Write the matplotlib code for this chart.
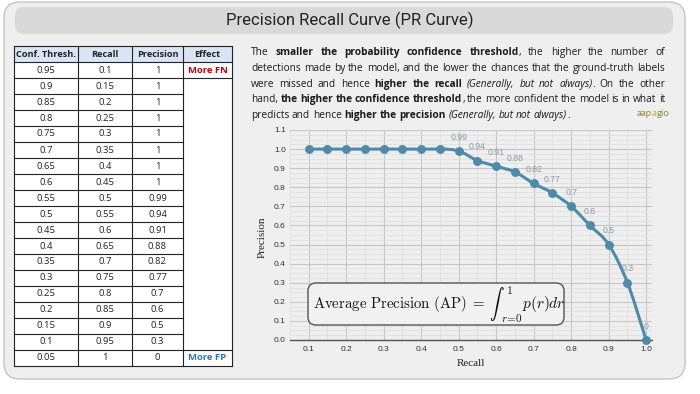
import re
import numpy as np
import matplotlib
matplotlib.use("Agg")
import matplotlib.pyplot as plt
from matplotlib.patches import FancyBboxPatch, PathPatch
from matplotlib.path import Path

plt.rcParams["mathtext.fontset"] = "cm"

# ---------------- data ----------------
conf_thresh = [0.95, 0.9, 0.85, 0.8, 0.75, 0.7, 0.65, 0.6, 0.55, 0.5,
               0.45, 0.4, 0.35, 0.3, 0.25, 0.2, 0.15, 0.1, 0.05]
recall = [0.1, 0.15, 0.2, 0.25, 0.3, 0.35, 0.4, 0.45, 0.5, 0.55,
          0.6, 0.65, 0.7, 0.75, 0.8, 0.85, 0.9, 0.95, 1]
precision = [1, 1, 1, 1, 1, 1, 1, 1, 0.99, 0.94,
             0.91, 0.88, 0.82, 0.77, 0.7, 0.6, 0.5, 0.3, 0]
table_headers = ["Conf. Thresh.", "Recall", "Precision", "Effect"]
effect_top = "More FN"
effect_bottom = "More FP"
x_ticks = [0.1, 0.2, 0.3, 0.4, 0.5, 0.6, 0.7, 0.8, 0.9, 1.0]
y_ticks = [0.0, 0.1, 0.2, 0.3, 0.4, 0.5, 0.6, 0.7, 0.8, 0.9, 1.0, 1.1]
label_from_recall = 0.5   # points that carry a value label

title = "Precision Recall Curve (PR Curve)"
paragraph = [
    "The **smaller the probability confidence threshold**, the higher the number of",
    "detections made by the model, and the lower the chances that the ground-truth labels",
    "were missed and hence **higher the recall** *(Generally, but not always)*. On the other",
    "hand, **the higher the confidence threshold**, the more confident the model is in what it",
    "predicts and hence **higher the precision** *(Generally, but not always)*.",
]

LINE_C = "#4f8aa8"
W, H = 700, 394

fig = plt.figure(figsize=(7, 3.94), dpi=100)
bg = fig.add_axes([0, 0, 1, 1])
bg.set_xlim(0, W)
bg.set_ylim(H, 0)
bg.axis("off")
renderer = fig.canvas.get_renderer()

# outer panel and title bar
bg.add_patch(FancyBboxPatch((4, 2), 681, 377, boxstyle="round,pad=0,rounding_size=16",
                            fc="#efefef", ec="#c4c4c4", lw=1.0))
bg.add_patch(FancyBboxPatch((15, 7), 658, 27, boxstyle="round,pad=0,rounding_size=9",
                            fc="#d9d9d9", ec="none"))
bg.text(350, 20.5, title, ha="center", va="center", fontsize=12,
        family="Roboto", color="#222222")

# ---------------- table ----------------
TFS = 6.8
cols = [14, 78, 132, 183, 232]
top, hh, rh = 46, 16, 16
nrows = len(conf_thresh)
bottom = top + hh + rh * nrows
bg.add_patch(plt.Rectangle((cols[0], top), cols[-1] - cols[0], bottom - top,
                           fc="white", ec="none"))
bg.add_patch(plt.Rectangle((cols[0], top), cols[-1] - cols[0], hh,
                           fc="#d9e4f4", ec="none"))
lc, lw = "#222222", 0.8
for x in cols:
    bg.plot([x, x], [top, bottom], color=lc, lw=lw)
ys = [top] + [top + hh + rh * i for i in range(nrows + 1)]
for k, y in enumerate(ys):
    if k in (0, 1, 2, len(ys) - 2, len(ys) - 1):
        bg.plot([cols[0], cols[-1]], [y, y], color=lc, lw=lw)
    else:
        bg.plot([cols[0], cols[3]], [y, y], color=lc, lw=lw)
centers = [(cols[i] + cols[i + 1]) / 2 for i in range(4)]
for c, h in zip(centers, table_headers):
    bg.text(c, top + hh / 2, h, ha="center", va="center", fontsize=6.6,
            fontweight="bold", family="Open Sans", color="#222222")
for i in range(nrows):
    yc = top + hh + rh * i + rh / 2
    for c, v in zip(centers[:3], (conf_thresh[i], recall[i], precision[i])):
        bg.text(c, yc, f"{v:g}", ha="center", va="center", fontsize=TFS,
                family="Open Sans", color="#222222")
bg.text(centers[3], top + hh + rh / 2, effect_top, ha="center", va="center",
        fontsize=TFS, fontweight="bold", family="Open Sans", color="#c00000")
bg.text(centers[3], bottom - rh / 2, effect_bottom, ha="center", va="center",
        fontsize=TFS, fontweight="bold", family="Open Sans", color="#2e75b6")

# ---------------- paragraph (justified) ----------------
styles = {"n": dict(), "b": dict(fontweight="bold"), "i": dict(style="italic")}
PFONT = "Open Sans"


def measure(s, st, fs):
    t = bg.text(0, 0, s, fontsize=fs, family=PFONT, **styles[st])
    w = t.get_window_extent(renderer).width
    t.remove()
    return w


def parse(line):
    runs = []
    for tok in re.split(r"(\*\*.*?\*\*|\*.*?\*)", line):
        if not tok:
            continue
        if tok.startswith("**"):
            runs.append((tok[2:-2], "b"))
        elif tok.startswith("*"):
            runs.append((tok[1:-1], "i"))
        else:
            runs.append((tok, "n"))
    words = [[]]
    for text, st in runs:
        for k, p in enumerate(text.split(" ")):
            if k > 0:
                words.append([])
            if p:
                words[-1].append((p, st))
    return [w for w in words if w]


px0, px1 = 251, 665
line_y = [52.5, 68.2, 84.0, 99.6, 115.2]
parsed = [parse(l) for l in paragraph]


def layout(fs):
    sp = measure("a a", "n", fs) - 2 * measure("a", "n", fs)
    res = []
    ok = True
    for words in parsed:
        widths = [[measure(p, st, fs) for p, st in w] for w in words]
        tot = sum(sum(w) for w in widths)
        if tot + 0.8 * sp * (len(words) - 1) > px1 - px0:
            ok = False
        res.append(widths)
    return ok, sp, res


PFS = 8.0
while True:
    ok, space_w, all_widths = layout(PFS)
    if ok or PFS < 6:
        break
    PFS -= 0.1

for li, (words, widths, y) in enumerate(zip(parsed, all_widths, line_y)):
    tot = sum(sum(w) for w in widths)
    if li < len(paragraph) - 1:
        gap = (px1 - px0 - tot) / (len(words) - 1)
    else:
        gap = space_w
    x = px0
    for w, ws in zip(words, widths):
        for (p, st), pw in zip(w, ws):
            bg.text(x, y, p, ha="left", va="center", fontsize=PFS,
                    family=PFONT, color="#1a1a1a", **styles[st])
            x += pw
        x += gap

# logo
logo = [("aap", "#8d8f2e"), ("a", "#e3a21a"), ("gio", "#8d8f2e")]
lx = 637
for s, c in logo:
    t = bg.text(lx, 113, s, fontsize=7, family="Lato", color=c, va="center")
    lx += t.get_window_extent(renderer).width

# ---------------- chart ----------------
ax = fig.add_axes([290 / W, 1 - 340 / H, 362 / W, 210 / H])
ax.patch.set_visible(False)
ax.set_xlim(0.082, 1.0155)
ax.set_ylim(0, 1.1)
ax.set_xticks(x_ticks)
ax.set_yticks(y_ticks)
ax.set_xticks(np.arange(0.05, 1.01, 0.05), minor=True)
ax.set_yticks(np.arange(0, 1.1, 0.025), minor=True)
ax.set_xticklabels([f"{t:.1f}" for t in x_ticks])
ax.set_yticklabels([f"{t:.1f}" for t in y_ticks])
ax.grid(which="major", color="#c6c6c6", lw=0.8)
ax.grid(which="minor", color="#dddddd", lw=0.5)
ax.set_axisbelow(True)
for s in ("left", "right", "top"):
    ax.spines[s].set_visible(False)
ax.spines["bottom"].set_color("#555555")
ax.spines["bottom"].set_linewidth(1.0)
ax.tick_params(which="both", length=0)
ax.tick_params(axis="x", pad=4, labelsize=6, labelcolor="#333333")
ax.tick_params(axis="y", pad=3, labelsize=6, labelcolor="#333333")
for lab in ax.get_xticklabels() + ax.get_yticklabels():
    lab.set_family("Liberation Sans")

# monotone cubic bezier through the data points
xa = np.array(recall, float)
ya = np.array(precision, float)
dx = np.diff(xa)
d = np.diff(ya) / dx
m = np.zeros_like(xa)
m[0], m[-1] = d[0], d[-1]
for i in range(1, len(xa) - 1):
    m[i] = 0 if d[i - 1] * d[i] <= 0 else (d[i - 1] + d[i]) / 2
for i in range(len(d)):
    if d[i] == 0:
        m[i] = m[i + 1] = 0
    else:
        a, b = m[i] / d[i], m[i + 1] / d[i]
        s2 = a * a + b * b
        if s2 > 9:
            t = 3 / np.sqrt(s2)
            m[i], m[i + 1] = t * a * d[i], t * b * d[i]
verts = [(xa[0], ya[0])]
codes = [Path.MOVETO]
for i in range(len(dx)):
    h = dx[i] / 3
    verts += [(xa[i] + h, ya[i] + m[i] * h),
              (xa[i + 1] - h, ya[i + 1] - m[i + 1] * h),
              (xa[i + 1], ya[i + 1])]
    codes += [Path.CURVE4] * 3
ax.add_patch(PathPatch(Path(verts, codes), fc="none", ec=LINE_C, lw=2.2,
                       capstyle="round", joinstyle="round", zorder=3, clip_on=False))
ax.plot(recall, precision, "o", color=LINE_C, ms=5.4, zorder=4, clip_on=False)
for r, p in zip(recall, precision):
    if r >= label_from_recall:
        ax.annotate(f"{p:g}", (r, p), xytext=(0, 10), textcoords="offset points",
                    ha="center", va="center", fontsize=6.3, color="#8a9aa6",
                    family="Liberation Sans")

bg.text(262, 237, "Precision", rotation=90, ha="center", va="center",
        fontsize=8, family="Liberation Serif", color="#222222")
bg.text(471, 364, "Recall", ha="center", va="center",
        fontsize=8, family="Liberation Serif", color="#222222")

# ---------------- formula overlay ----------------
ov = fig.add_axes([0, 0, 1, 1])
ov.set_xlim(0, W)
ov.set_ylim(H, 0)
ov.axis("off")
ov.patch.set_visible(False)
ov.add_patch(FancyBboxPatch((308, 283), 256, 42, boxstyle="round,pad=0,rounding_size=8",
                            fc="#f1f1f1", ec="#555555", lw=1.0))
FC = "#111111"
ov.text(313, 304, r"$\mathrm{Average\ Precision\ (AP)}\ =$",
        ha="left", va="center", fontsize=10.7, color=FC)
ov.text(489, 304, r"$\int$", ha="left", va="center", fontsize=10.5, color=FC)
ov.text(506, 290, r"$1$", ha="left", va="center", fontsize=8.5, color=FC)
ov.text(501, 318.5, r"$r\!=\!0$", ha="left", va="center", fontsize=8, color=FC)
ov.text(522, 304, r"$p(r)dr$", ha="left", va="center", fontsize=11, color=FC)

fig.savefig("out.png", dpi=100)
